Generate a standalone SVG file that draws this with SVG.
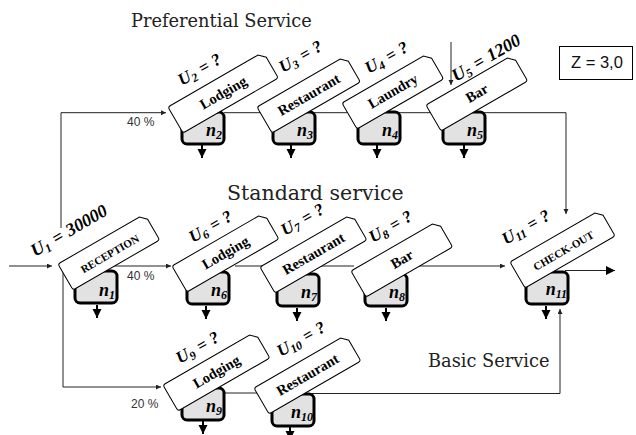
<svg xmlns="http://www.w3.org/2000/svg" width="636" height="435" viewBox="0 0 636 435">
  <style>
    .ln { fill: none; stroke: #222; stroke-width: 1; }
    .dn { fill: none; stroke: #000; stroke-width: 2; }
    .cnt { fill: #e2e2e2; stroke: #000; stroke-width: 3; }
    .box { fill: #fff; stroke: #000; stroke-width: 1; }
    .act { font-family: "Liberation Serif", serif; font-weight: bold; font-size: 14.5px; text-anchor: middle; fill: #000; }
    .caps { font-size: 11px; }
    .u { font-family: "Liberation Serif", serif; font-weight: bold; font-style: italic; font-size: 17px; fill: #000; word-spacing: 1px; }
    .big { font-size: 18px; }
    .n { font-family: "Liberation Serif", serif; font-weight: bold; font-style: italic; font-size: 18px; text-anchor: end; fill: #000; }
    .sub { font-size: 12px; }
    .title { font-family: "DejaVu Serif", serif; fill: #222; }
    .pct { font-family: "Liberation Sans", sans-serif; font-size: 12px; fill: #333; }
  </style>
  <defs>
    <marker id="ah" markerUnits="userSpaceOnUse" markerWidth="10" markerHeight="10" refX="9" refY="5" orient="auto">
      <path d="M0,0.5 L9,5 L0,9.5 z" fill="#000"/>
    </marker>
    <marker id="as" markerUnits="userSpaceOnUse" markerWidth="6" markerHeight="6" refX="5" refY="2.5" orient="auto">
      <path d="M0,0 L5,2.5 L0,5 z" fill="#222"/>
    </marker>
  </defs>

  <rect width="636" height="435" fill="#fff"/>

  <!-- section titles -->
  <text class="title" x="131" y="27" font-size="17.8">Preferential Service</text>
  <text class="title" x="227" y="200" font-size="20.5">Standard service</text>
  <text class="title" x="428" y="367" font-size="17.8">Basic Service</text>

  <!-- parameter box -->
  <g id="zbox">
    <rect x="559.5" y="46.5" width="73" height="33" fill="#fff" stroke="#000" stroke-width="1"/>
    <text x="571" y="68" font-family="Liberation Sans, sans-serif" font-size="16.5" fill="#111">Z = 3,0</text>
  </g>

  <!-- connectors -->
  <g id="connectors">
    <path class="ln" d="M9,266 H52" marker-end="url(#as)"/>
    <path class="ln" d="M61,228 V112.7 H166" marker-end="url(#as)"/>
    <path class="ln" d="M63,272 V387 H161" marker-end="url(#as)"/>
    <path class="ln" d="M112,266 H171" marker-end="url(#as)"/>
    <path class="ln" d="M224,112.7 H262"/>
    <path class="ln" d="M313,112.7 H347"/>
    <path class="ln" d="M398,112.7 H431"/>
    <path class="ln" d="M483,112.7 H566 V214" marker-end="url(#as)"/>
    <path class="ln" d="M451,42 V85" marker-end="url(#as)"/>
    <path class="ln" d="M235,266 H264"/>
    <path class="ln" d="M320,266 H354"/>
    <path class="ln" d="M400,266 H505" marker-end="url(#as)"/>
    <path class="ln" d="M565,270.5 H615" stroke-width="1.3" marker-end="url(#ah)"/>
    <path class="ln" d="M224,393 H258"/>
    <path class="ln" d="M312,393.5 H560 V309" marker-end="url(#as)"/>
    <!-- outflows below each counter -->
    <path class="dn" d="M97,305 V318" marker-end="url(#ah)"/>
    <path class="dn" d="M202,145 V158" marker-end="url(#ah)"/>
    <path class="dn" d="M291,145 V158" marker-end="url(#ah)"/>
    <path class="dn" d="M377,145 V158" marker-end="url(#ah)"/>
    <path class="dn" d="M464,145 V158" marker-end="url(#ah)"/>
    <path class="dn" d="M206,306 V319" marker-end="url(#ah)"/>
    <path class="dn" d="M297,308 V321" marker-end="url(#ah)"/>
    <path class="dn" d="M386,308 V321" marker-end="url(#ah)"/>
    <path class="dn" d="M546,306 V319" marker-end="url(#ah)"/>
    <path class="dn" d="M203,421 V434" marker-end="url(#ah)"/>
    <path class="dn" d="M290,427 V440" marker-end="url(#ah)"/>
    <text class="pct" x="127" y="126">40 %</text>
    <text class="pct" x="127" y="280">40 %</text>
    <text class="pct" x="131" y="408">20 %</text>
  </g>

  <!-- RECEPTION -->
  <g id="n1">
    <rect class="cnt" x="75" y="271" width="42" height="32" rx="5"/>
    <g transform="translate(58,264) rotate(-30)">
      <path class="box" d="M2.5,0 H94 L100,6 V27.5 Q100,30 97.5,30 H2.5 Q0,30 0,27.5 V2.5 Q0,0 2.5,0 Z"/>
      <text class="act caps" x="50" y="17" dy=".35em">RECEPTION</text>
    </g>
    <text class="u big" transform="translate(35,257) rotate(-30)">U<tspan class="sub" dy="3">1</tspan><tspan dy="-3"> = 30000</tspan></text>
    <text class="n" x="115" y="296">n<tspan class="sub" dy="3">1</tspan></text>
  </g>

  <!-- Preferential row -->
  <g id="n2">
    <rect class="cnt" x="182" y="112" width="42" height="32" rx="5"/>
    <g transform="translate(168,107) rotate(-30)">
      <path class="box" d="M2.5,0 H104 L110,6 V27.5 Q110,30 107.5,30 H2.5 Q0,30 0,27.5 V2.5 Q0,0 2.5,0 Z"/>
      <text class="act" x="55" y="15" dy=".35em">Lodging</text>
    </g>
    <text class="u" transform="translate(182,86) rotate(-30)">U<tspan class="sub" dy="3">2</tspan><tspan dy="-3"> = ?</tspan></text>
    <text class="n" x="222" y="136">n<tspan class="sub" dy="3">2</tspan></text>
  </g>

  <g id="n3">
    <rect class="cnt" x="273" y="112" width="42" height="32" rx="5"/>
    <g transform="translate(257,107) rotate(-30)">
      <path class="box" d="M2.5,0 H96 L102,6 V27.5 Q102,30 99.5,30 H2.5 Q0,30 0,27.5 V2.5 Q0,0 2.5,0 Z"/>
      <text class="act" x="51" y="15" dy=".35em">Restaurant</text>
    </g>
    <text class="u" transform="translate(283,73) rotate(-30)">U<tspan class="sub" dy="3">3</tspan><tspan dy="-3"> = ?</tspan></text>
    <text class="n" x="313" y="136">n<tspan class="sub" dy="3">3</tspan></text>
  </g>

  <g id="n4">
    <rect class="cnt" x="358" y="112" width="42" height="32" rx="5"/>
    <g transform="translate(342,103) rotate(-30)">
      <path class="box" d="M2.5,0 H94 L100,6 V27.5 Q100,30 97.5,30 H2.5 Q0,30 0,27.5 V2.5 Q0,0 2.5,0 Z"/>
      <text class="act" x="50" y="15" dy=".35em">Laundry</text>
    </g>
    <text class="u" transform="translate(369,74) rotate(-30)">U<tspan class="sub" dy="3">4</tspan><tspan dy="-3"> = ?</tspan></text>
    <text class="n" x="398" y="136">n<tspan class="sub" dy="3">4</tspan></text>
  </g>

  <g id="n5">
    <rect class="cnt" x="443" y="112" width="42" height="32" rx="5"/>
    <g transform="translate(426,105) rotate(-30)">
      <path class="box" d="M2.5,0 H94 L100,6 V27.5 Q100,30 97.5,30 H2.5 Q0,30 0,27.5 V2.5 Q0,0 2.5,0 Z"/>
      <text class="act" x="50" y="15" dy=".35em">Bar</text>
    </g>
    <text class="u big" transform="translate(456,82) rotate(-30)">U<tspan class="sub" dy="3">5</tspan><tspan dy="-3"> = 1200</tspan></text>
    <text class="n" x="483" y="136">n<tspan class="sub" dy="3">5</tspan></text>
  </g>

  <!-- Standard row -->
  <g id="n6">
    <rect class="cnt" x="187" y="272" width="42" height="32" rx="5"/>
    <g transform="translate(172,266) rotate(-30)">
      <path class="box" d="M2.5,0 H100 L106,6 V27.5 Q106,30 103.5,30 H2.5 Q0,30 0,27.5 V2.5 Q0,0 2.5,0 Z"/>
      <text class="act" x="53" y="15" dy=".35em">Lodging</text>
    </g>
    <text class="u" transform="translate(193,243) rotate(-30)">U<tspan class="sub" dy="3">6</tspan><tspan dy="-3"> = ?</tspan></text>
    <text class="n" x="227" y="296">n<tspan class="sub" dy="3">6</tspan></text>
  </g>

  <g id="n7">
    <rect class="cnt" x="277" y="274" width="42" height="32" rx="5"/>
    <g transform="translate(260,267) rotate(-30)">
      <path class="box" d="M2.5,0 H100 L106,6 V27.5 Q106,30 103.5,30 H2.5 Q0,30 0,27.5 V2.5 Q0,0 2.5,0 Z"/>
      <text class="act" x="53" y="15" dy=".35em">Restaurant</text>
    </g>
    <text class="u" transform="translate(285,236) rotate(-30)">U<tspan class="sub" dy="3">7</tspan><tspan dy="-3"> = ?</tspan></text>
    <text class="n" x="317" y="298">n<tspan class="sub" dy="3">7</tspan></text>
  </g>

  <g id="n8">
    <rect class="cnt" x="365" y="274" width="42" height="32" rx="5"/>
    <g transform="translate(351,271) rotate(-30)">
      <path class="box" d="M2.5,0 H94 L100,6 V27.5 Q100,30 97.5,30 H2.5 Q0,30 0,27.5 V2.5 Q0,0 2.5,0 Z"/>
      <text class="act" x="50" y="15" dy=".35em">Bar</text>
    </g>
    <text class="u" transform="translate(373,243) rotate(-30)">U<tspan class="sub" dy="3">8</tspan><tspan dy="-3"> = ?</tspan></text>
    <text class="n" x="405" y="298">n<tspan class="sub" dy="3">8</tspan></text>
  </g>

  <g id="n11">
    <rect class="cnt" x="526" y="272" width="42" height="32" rx="5"/>
    <g transform="translate(510,262) rotate(-30)">
      <path class="box" d="M2.5,0 H98 L104,6 V27.5 Q104,30 101.5,30 H2.5 Q0,30 0,27.5 V2.5 Q0,0 2.5,0 Z"/>
      <text class="act caps" x="52" y="17" dy=".35em">CHECK-OUT</text>
    </g>
    <text class="u" transform="translate(506,245) rotate(-30)">U<tspan class="sub" dy="3">11</tspan><tspan dy="-3"> = ?</tspan></text>
    <text class="n" x="567" y="295">n<tspan class="sub" dy="3">11</tspan></text>
  </g>

  <!-- Basic row -->
  <g id="n9">
    <rect class="cnt" x="182" y="388" width="42" height="32" rx="5"/>
    <g transform="translate(163,385) rotate(-30)">
      <path class="box" d="M2.5,0 H100 L106,6 V27.5 Q106,30 103.5,30 H2.5 Q0,30 0,27.5 V2.5 Q0,0 2.5,0 Z"/>
      <text class="act" x="53" y="15" dy=".35em">Lodging</text>
    </g>
    <text class="u" transform="translate(180,364) rotate(-30)">U<tspan class="sub" dy="3">9</tspan><tspan dy="-3"> = ?</tspan></text>
    <text class="n" x="222" y="412">n<tspan class="sub" dy="3">9</tspan></text>
  </g>

  <g id="n10">
    <rect class="cnt" x="272" y="394" width="42" height="32" rx="5"/>
    <g transform="translate(254,388) rotate(-30)">
      <path class="box" d="M2.5,0 H100 L106,6 V27.5 Q106,30 103.5,30 H2.5 Q0,30 0,27.5 V2.5 Q0,0 2.5,0 Z"/>
      <text class="act" x="53" y="15" dy=".35em">Restaurant</text>
    </g>
    <text class="u" transform="translate(281,357) rotate(-30)">U<tspan class="sub" dy="3">10</tspan><tspan dy="-3"> = ?</tspan></text>
    <text class="n" x="313" y="418">n<tspan class="sub" dy="3">10</tspan></text>
  </g>
</svg>
